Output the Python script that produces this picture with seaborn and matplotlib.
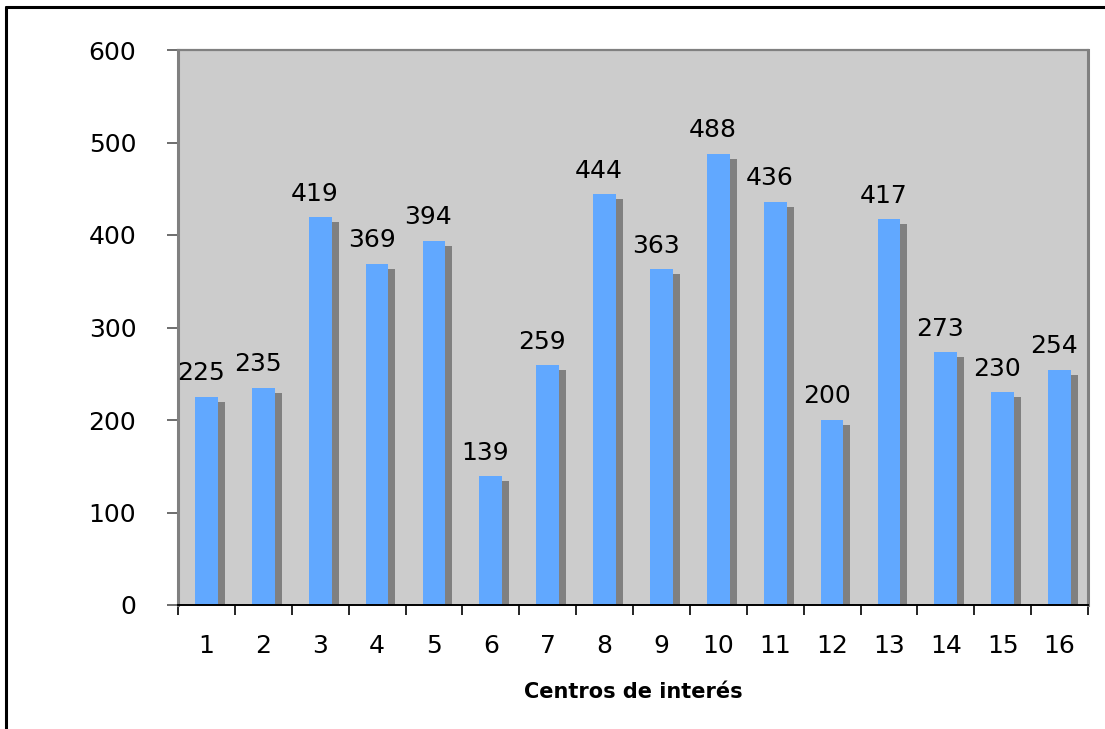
import matplotlib
matplotlib.use("Agg")
import matplotlib.pyplot as plt
import matplotlib.patheffects as pe
from matplotlib.lines import Line2D
import seaborn as sns
import pandas as pd
import numpy as np

centros = [str(i) for i in range(1, 17)]
valores = [225, 235, 419, 369, 394, 139, 259, 444, 363, 488, 436, 200, 417, 273, 230, 254]
y_ticks = [0, 100, 200, 300, 400, 500, 600]
x_label = "Centros de interés"

sns.set_theme(style="white")
plt.rcParams["font.family"] = ["DejaVu Sans"]

W, H, DPI = 1105, 729, 100
fig = plt.figure(figsize=(W / DPI, H / DPI), dpi=DPI)
ax = fig.add_axes([178 / W, 1 - 605 / H, (1088 - 178) / W, (605 - 50) / H])
ax.set_facecolor("#CCCCCC")

df = pd.DataFrame({"centro": centros, "valor": valores})
sns.barplot(data=df, x="centro", y="valor", color="#61A8FF", saturation=1,
            width=0.40, ax=ax, order=centros)

# drop shadow behind every bar
for patch in ax.patches:
    patch.set_edgecolor("none")
    patch.set_path_effects([
        pe.SimplePatchShadow(offset=(5.0, -3.6), shadow_rgbFace="#808080", alpha=1.0),
        pe.Normal(),
    ])

# value labels
for i, v in enumerate(valores):
    ax.annotate(str(v), xy=(i, v), xytext=(-4, 12), textcoords="offset points",
                ha="center", va="baseline", fontsize=18, color="black")

ax.set_ylim(0, 600)
ax.set_xlim(-0.5, len(centros) - 0.5)
ax.set_yticks(y_ticks)
ax.set_yticklabels([str(t) for t in y_ticks], fontsize=18, color="black")
ax.set_xticks(range(len(centros)))
ax.set_xticklabels(centros, fontsize=18, color="black")
ax.set_xticks(np.arange(-0.5, len(centros), 1.0), minor=True)
ax.tick_params(axis="x", which="major", length=0, pad=21, bottom=True)
ax.tick_params(axis="x", which="minor", length=7, width=1.2, color="black",
               direction="out", bottom=True)
ax.tick_params(axis="y", which="major", length=8, width=1.2, color="#555555",
               direction="out", pad=22, left=True)

ax.set_xlabel(x_label, fontsize=15, fontweight="bold", color="black", labelpad=17)
ax.set_ylabel("")

for side in ["left", "right", "top"]:
    ax.spines[side].set_visible(True)
    ax.spines[side].set_color("#808080")
ax.spines["left"].set_linewidth(2.2)
ax.spines["right"].set_linewidth(2.2)
ax.spines["top"].set_linewidth(1.6)
ax.spines["bottom"].set_color("black")
ax.spines["bottom"].set_linewidth(1.4)
ax.grid(False)

# outer frame of the chart area
fig.add_artist(Line2D([6 / W, 6 / W], [1 - 7 / H, 0], transform=fig.transFigure,
                      color="black", linewidth=2.2))
fig.add_artist(Line2D([6 / W, 1], [1 - 7 / H, 1 - 7 / H], transform=fig.transFigure,
                      color="black", linewidth=2.2))

fig.savefig("out.png", dpi=DPI, facecolor="white")
